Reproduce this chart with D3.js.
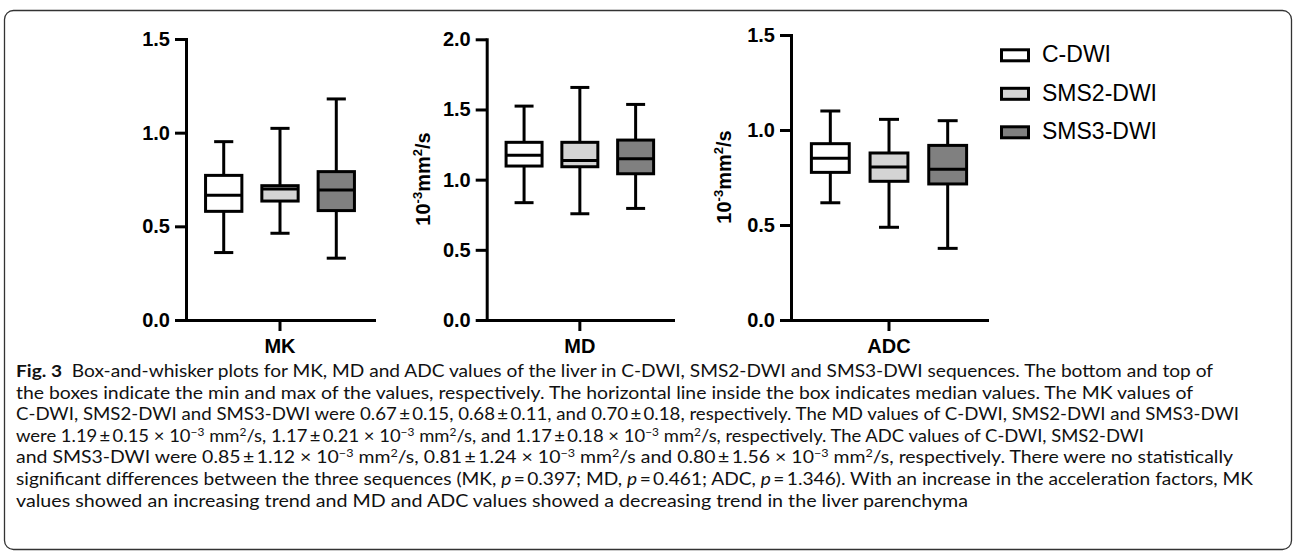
<!DOCTYPE html>
<html><head><meta charset="utf-8">
<script src="https://cdn.jsdelivr.net/npm/d3@7"></script>
<style>body{margin:0;background:#fff}svg{display:block}</style>
</head><body>
<svg id="chart" width="1296" height="554"></svg>
<script>
// ---------- data ----------
const categories = ["C-DWI", "SMS2-DWI", "SMS3-DWI"];
const metrics = ["MK", "MD", "ADC"];
// each box: [min, q1, median, q3, max]
const mkValues  = [[0.36, 0.58, 0.666, 0.772, 0.952], [0.463, 0.635, 0.699, 0.717, 1.023], [0.33, 0.584, 0.694, 0.792, 1.18]];
const mdValues  = [[0.836, 1.097, 1.173, 1.266, 1.524], [0.757, 1.092, 1.137, 1.266, 1.657], [0.795, 1.042, 1.149, 1.282, 1.536]];
const adcValues = [[0.617, 0.777, 0.851, 0.928, 1.10], [0.488, 0.730, 0.805, 0.879, 1.056], [0.377, 0.716, 0.793, 0.919, 1.049]];
const mkTicks  = [0, 0.5, 1.0, 1.5];
const mdTicks  = [0, 0.5, 1.0, 1.5, 2.0];
const adcTicks = [0, 0.5, 1.0, 1.5];
const seriesFills = ["#ffffff", "#d4d4d4", "#808080"];

// ---------- layout ----------
const svg = d3.select("#chart");
const FONT = "'Liberation Sans', Arial, Helvetica, sans-serif";
const baseY = 320;
const panels = [
  {metric: metrics[0], values: mkValues,  ticks: mkTicks,  x0: 186,   x1: 374, top: 39,   title: false},
  {metric: metrics[1], values: mdValues,  ticks: mdTicks,  x0: 486.7, x1: 673, top: 39.3, title: true, tx: 430, ty: 179},
  {metric: metrics[2], values: adcValues, ticks: adcTicks, x0: 791,   x1: 987, top: 35,   title: true, tx: 731, ty: 177}
];

// frame
svg.append("rect").attr("x", 4.5).attr("y", 10.5).attr("width", 1287).attr("height", 539)
  .attr("rx", 9).attr("fill", "none").attr("stroke", "#333").attr("stroke-width", 1.3);

panels.forEach(p => {
  const g = svg.append("g");
  const y = d3.scaleLinear().domain([0, d3.max(p.ticks)]).range([baseY, p.top]);
  const xOuter = d3.scaleBand().domain([p.metric]).range([p.x0, p.x1]);
  const x = d3.scaleBand().domain(categories).range([p.x0, p.x1]).paddingInner(0).paddingOuter(0.17);
  const step = x.step();
  const boxW = step * 0.645;
  const capW = step * 0.34;

  // y axis
  const ya = g.append("g").attr("transform", `translate(${p.x0},0)`)
    .call(d3.axisLeft(y).tickValues(p.ticks).tickFormat(d3.format(".1f")).tickSize(11).tickSizeOuter(0).tickPadding(5));
  // x axis
  const xa = g.append("g").attr("transform", `translate(0,${baseY})`)
    .call(d3.axisBottom(xOuter).tickSize(11).tickSizeOuter(0).tickPadding(8));
  [ya, xa].forEach(a => {
    a.select(".domain").attr("stroke", "#000").attr("stroke-width", 3).attr("stroke-linecap", "square");
    a.selectAll(".tick line").attr("stroke", "#000").attr("stroke-width", 3);
    a.selectAll(".tick text").attr("fill", "#000").style("font-family", FONT)
      .style("font-weight", "bold").style("font-size", "20px");
  });

  // boxes
  const boxes = g.selectAll("g.box").data(p.values).join("g").attr("class", "box")
    .attr("transform", (d, i) => `translate(${x(categories[i]) + x.bandwidth() / 2},0)`);
  const st = sel => sel.attr("stroke", "#000").attr("stroke-width", 3);
  boxes.append("line").attr("x1", 0).attr("x2", 0).attr("y1", d => y(d[4])).attr("y2", d => y(d[3])).call(st);
  boxes.append("line").attr("x1", 0).attr("x2", 0).attr("y1", d => y(d[1])).attr("y2", d => y(d[0])).call(st);
  boxes.append("line").attr("x1", -capW / 2).attr("x2", capW / 2).attr("y1", d => y(d[4])).attr("y2", d => y(d[4])).call(st);
  boxes.append("line").attr("x1", -capW / 2).attr("x2", capW / 2).attr("y1", d => y(d[0])).attr("y2", d => y(d[0])).call(st);
  boxes.append("rect").attr("x", -boxW / 2).attr("width", boxW)
    .attr("y", d => y(d[3])).attr("height", d => y(d[1]) - y(d[3]))
    .attr("fill", (d, i) => seriesFills[i]).call(st);
  boxes.append("line").attr("x1", -boxW / 2).attr("x2", boxW / 2).attr("y1", d => y(d[2])).attr("y2", d => y(d[2])).call(st);

  // y title
  if (p.title) {
    const t = g.append("text").attr("transform", `translate(${p.tx},${p.ty}) rotate(-90)`)
      .attr("text-anchor", "middle").style("font-family", FONT).style("font-weight", "bold")
      .style("font-size", "20px").attr("fill", "#000");
    t.append("tspan").text("10");
    t.append("tspan").attr("dy", -8).style("font-size", "13px").text("-3");
    t.append("tspan").attr("dy", 8).text("mm");
    t.append("tspan").attr("dy", -8).style("font-size", "13px").text("2");
    t.append("tspan").attr("dy", 8).text("/s");
  }
});

// legend
const leg = svg.append("g");
categories.forEach((c, i) => {
  const yb = 62.3 + i * 38.5;
  leg.append("rect").attr("x", 1001.5).attr("y", yb - 12.5).attr("width", 27).attr("height", 11)
    .attr("fill", seriesFills[i]).attr("stroke", "#000").attr("stroke-width", 3);
  leg.append("text").attr("x", 1042).attr("y", yb).text(c)
    .style("font-family", FONT).style("font-size", "23px").attr("fill", "#000");
});

// caption
const cap = [
  [["Fig. 3", "b"], ["  Box-and-whisker plots for MK, MD and ADC values of the liver in C-DWI, SMS2-DWI and SMS3-DWI sequences. The bottom and top of"]],
  [["the boxes indicate the min and max of the values, respectively. The horizontal line inside the box indicates median values. The MK values of"]],
  [["C-DWI, SMS2-DWI and SMS3-DWI were 0.67\u2009±\u20090.15, 0.68\u2009±\u20090.11, and 0.70\u2009±\u20090.18, respectively. The MD values of C-DWI, SMS2-DWI and SMS3-DWI"]],
  [["were 1.19\u2009±\u20090.15 × 10"], ["\u2212" + "3", "sup"], [" mm"], ["2", "sup"], ["/s, 1.17\u2009±\u20090.21 × 10"], ["\u22123", "sup"], [" mm"], ["2", "sup"], ["/s, and 1.17\u2009±\u20090.18 × 10"], ["\u22123", "sup"], [" mm"], ["2", "sup"], ["/s, respectively. The ADC values of C-DWI, SMS2-DWI"]],
  [["and SMS3-DWI were 0.85\u2009±\u20091.12 × 10"], ["\u22123", "sup"], [" mm"], ["2", "sup"], ["/s, 0.81\u2009±\u20091.24 × 10"], ["\u22123", "sup"], [" mm"], ["2", "sup"], ["/s and 0.80\u2009±\u20091.56 × 10"], ["\u22123", "sup"], [" mm"], ["2", "sup"], ["/s, respectively. There were no statistically"]],
  [["significant differences between the three sequences (MK, "], ["p", "i"], ["\u2009=\u20090.397; MD, "], ["p", "i"], ["\u2009=\u20090.461; ADC, "], ["p", "i"], ["\u2009=\u20091.346). With an increase in the acceleration factors, MK"]],
  [["values showed an increasing trend and MD and ADC values showed a decreasing trend in the liver parenchyma"]]
];
const capEnds = [1213, 1193, 1239, 1144, 1233, 1253, 968];
cap.forEach((line, li) => {
  const t = svg.append("text").attr("x", 16).attr("y", 377 + li * 21.6)
    .style("font-family", "Lato, 'Open Sans', sans-serif").style("font-size", "17px").attr("fill", "#111")
    .attr("xml:space", "preserve");
  let up = false;
  line.forEach(([s, k]) => {
    const ts = t.append("tspan").text(s);
    if (k === "b") ts.style("font-weight", "bold");
    if (k === "i") ts.style("font-style", "italic");
    if (k === "sup") { ts.attr("dy", -6).style("font-size", "11px"); up = true; }
    else if (up) { ts.attr("dy", 6); up = false; }
  });
  t.attr("textLength", capEnds[li] - 16).attr("lengthAdjust", "spacingAndGlyphs");
});
</script>
</body></html>
